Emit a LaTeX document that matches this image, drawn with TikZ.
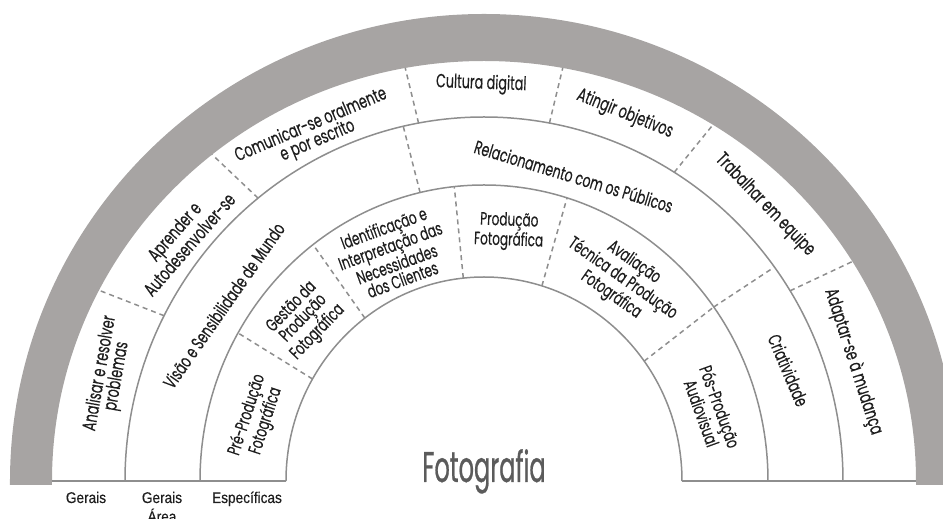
\documentclass[tikz,border=0pt]{standalone}
\usepackage{fontspec}
\setmainfont{Poppins}[FakeStretch=0.67, FakeBold=0.3]
\newfontfamily\titlefont{Poppins}[FakeStretch=0.56, FakeBold=0.6]
\newfontfamily\levelfont{Liberation Sans}[FakeStretch=0.88, FakeBold=0.3]
\definecolor{bandgray}{HTML}{A7A4A3}
\definecolor{linegray}{HTML}{8E8E8E}
\definecolor{titlegray}{HTML}{5B5B5B}
\definecolor{txt}{HTML}{1E1E1E}
\tikzset{
  ring/.style={linegray, line width=1.5pt},
  divider/.style={linegray, line width=1.5pt, dash pattern=on 5pt off 4pt},
  gen/.style={align=center, inner sep=0pt, text=txt, font=\fontsize{19}{17}\selectfont},
  area/.style={gen, font=\fontsize{18.5}{17}\selectfont},
  esp/.style={gen, font=\fontsize{18}{16.5}\selectfont},
  level/.style={align=center, inner sep=0pt, text=txt, font=\levelfont\fontsize{15.5}{19}\selectfont}
}
\begin{document}
\begin{tikzpicture}[x=1pt, y=1pt, line join=round]
  \def\rA{198} \def\rAy{204}
  \def\rB{284} \def\rBy{296}
  \def\rC{359} \def\rCy{364}
  \def\rD{432} \def\rDy{420}
  \def\rE{474} \def\rEy{467}
  \useasboundingbox (-484,-38) rectangle (459,481);
  % outer grey band
  \fill[bandgray] (-\rE,-4) -- (-\rE,0) arc[start angle=180, end angle=0, x radius=\rE, y radius=\rEy]
    -- (\rE,-4) -- (\rD,-4) -- (\rD,0) arc[start angle=0, end angle=180, x radius=\rD, y radius=\rDy]
    -- (-\rD,-4) -- cycle;
  % rings
  \draw[ring] (-\rA,0) arc[start angle=180, end angle=0, x radius=\rA, y radius=\rAy];
  \draw[ring] (-\rB,0) arc[start angle=180, end angle=0, x radius=\rB, y radius=\rBy];
  \draw[ring] (-\rC,0) arc[start angle=180, end angle=0, x radius=\rC, y radius=\rCy];
  \draw[ring, line width=2pt] (-\rD,0) -- (-\rA,0);
  \draw[ring, line width=2pt] (\rA,0) -- (\rD,0);
  % dividers
  \foreach \a in {36,73,96,127,150}
    \draw[divider] (\a:{\rA} and {\rAy}) -- (\a:{\rB} and {\rBy});
  \foreach \a in {36,103}
    \draw[divider] (\a:{\rB} and {\rBy}) -- (\a:{\rC} and {\rCy});
  \foreach \a in {31.5,58,79.5,100.5,129,153}
    \draw[divider] (\a:{\rC} and {\rCy}) -- (\a:{\rD} and {\rDy});
  % Gerais
  \node[gen, rotate=80] (analisar) at (164.2:390) {Analisar e resolver\\problemas};
  \node[gen, rotate=49] (aprender) at (141.2:388) {Aprender e\\Autodesenvolver-se};
  \node[gen, rotate=23] (comunicar) at (116:387) {Comunicar-se oralmente\\e por escrito};
  \node[gen, rotate=-2] (cultura) at (90.4:397) {Cultura digital};
  \node[gen, rotate=-22] (atingir) at (69:393) {Atingir objetivos};
  \node[gen, rotate=-46] (trabalhar) at (44.5:394) {Trabalhar em equipe};
  \node[gen, rotate=-72] (adaptar) at (17.9:388) {Adaptar-se à mudança};
  % Gerais Area
  \node[area, rotate=55] (visao) at (146:314) {Visão e Sensibilidade de Mundo};
  \node[area, rotate=-17] (relacionamento) at (73.6:318) {Relacionamento com os Públicos};
  \node[area, rotate=-67] (criatividade) at (20:324) {Criatividade};
  % Especificas
  \node[esp, rotate=72] (pre) at (164.5:236) {Pré-Produção\\Fotográfica};
  \node[esp, rotate=46] (gestao) at (138:241) {Gestão da\\Produção\\Fotográfica};
  \node[esp, rotate=20] (identificacao) at (111.8:245) {Identificação e\\Interpretação das\\Necessidades\\dos Clientes};
  \node[esp, rotate=-2] (producao) at (84.3:251) {Produção\\Fotográfica};
  \node[esp, rotate=-35] (avaliacao) at (55.6:245) {Avaliação\\Técnica da Produção\\Fotográfica};
  \node[esp, rotate=-70] (pos) at (17.4:238) {Pós-Produção\\Audiovisual};
  % title and levels
  \node[anchor=base, inner sep=0pt, text=titlegray, font=\titlefont\fontsize{43}{43}\selectfont] (fotografia) at (0,-1) {Fotografia};
  \node[level, anchor=base] (gerais) at (-398,-22) {Gerais};
  \node[level, anchor=base] (geraisarea) at (-322,-41) {Gerais\\Área};
  \node[level, anchor=base] (especificas) at (-237,-22) {Específicas};
\end{tikzpicture}
\end{document}
